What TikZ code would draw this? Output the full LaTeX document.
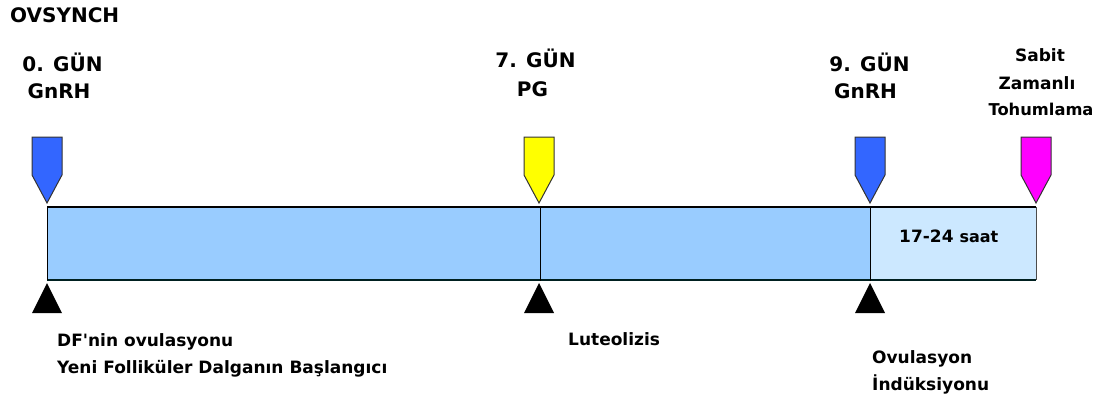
\documentclass[tikz,border=0pt]{standalone}
\usepackage{fontspec}
\setmainfont{DejaVu Sans}
\definecolor{barblue}{HTML}{99CCFF}
\definecolor{barlight}{HTML}{CCE8FF}
\definecolor{mkblue}{HTML}{3366FF}
\definecolor{mkyellow}{HTML}{FFFF00}
\definecolor{mkmag}{HTML}{FF00FF}
\begin{document}
\begin{tikzpicture}[x=1pt,y=-1pt,
  lbl/.style={font=\bfseries\fontsize{20}{24}\selectfont, inner sep=0pt, anchor=base},
  lblb/.style={font=\bfseries\fontsize{17}{20}\selectfont, inner sep=0pt, anchor=base},
  sml/.style={font=\bfseries\fontsize{17}{20}\selectfont, inner sep=0pt, anchor=base west},
  pics/dropmark/.style={code={\draw[fill=#1, line width=1pt, draw=black!80] (-15,-66) -- (15,-66) -- (15,-28) -- (0,0) -- (-15,-28) -- cycle;}},
  pics/upmark/.style={code={\fill[black] (0,0) -- (15,30) -- (-15,30) -- cycle;}}]
\useasboundingbox (0,0) rectangle (1099,401);
% bar
\fill[barblue] (47,207) rectangle (870,280);
\fill[barlight] (870,207) rectangle (1036,280);
\draw[line width=1.2pt] (47,207) -- (1036,207);
\draw[line width=1.2pt, draw=black!75!teal] (47,280) -- (1036,280);
\draw[line width=1pt] (47,207) -- (47,280);
\draw[line width=1pt, draw=black!70] (1036,207) -- (1036,280);
\draw[line width=0.8pt] (540,207) -- (540,281);
\draw[line width=0.8pt] (870,207) -- (870,281);
% markers
\pic at (47,203) {dropmark=mkblue};
\pic at (539,203) {dropmark=mkyellow};
\pic at (870,203) {dropmark=mkblue};
\pic at (1036,203) {dropmark=mkmag};
\pic at (47,283) {upmark};
\pic at (539,283) {upmark};
\pic at (870,283) {upmark};
% texts
\node[lbl, anchor=base west] (title) at (10,23) {OVSYNCH};
\node[lbl] (d0) at (62.5,72) {0. GÜN};
\node[lbl] (g0) at (59,99) {GnRH};
\node[lbl] (d7) at (535.5,68) {7. GÜN};
\node[lbl] (pg) at (532.5,97) {PG};
\node[lbl] (d9) at (869.5,72) {9. GÜN};
\node[lbl] (g9) at (865.5,99) {GnRH};
\node[lblb] (sabit) at (1040,62) {Sabit};
\node[lblb] (zaman) at (1037,90) {Zamanlı};
\node[lblb, font=\bfseries\fontsize{16.3}{20}\selectfont] (tohum) at (1041,116) {Tohumlama};
\node[lblb, anchor=base west] (saat) at (899,242) {17-24 {\fontsize{16}{20}\selectfont saat}};
\node[sml] (df) at (57,346) {DF\textquotesingle nin ovulasyonu};
\node[sml] (yeni) at (57,373) {Yeni Folliküler Dalganın Başlangıcı};
\node[sml] (lut) at (568,345) {Luteolizis};
\node[sml] (ovu) at (872,363) {Ovulasyon};
\node[sml] (ind) at (872,390) {İndüksiyonu};
\end{tikzpicture}
\end{document}
